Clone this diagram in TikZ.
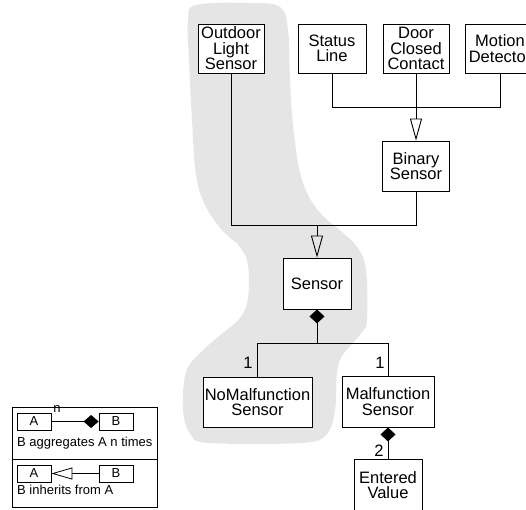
\documentclass[tikz,border=0pt]{standalone}
\usepackage{fontspec}
\setmainfont{Liberation Sans}
\usetikzlibrary{arrows.meta}
\tikzset{
  cls/.style={draw, line width=0.9pt, fill=white, inner sep=0pt, align=center,
    font=\fontsize{16.5}{15.5}\selectfont},
  lgbox/.style={draw, line width=0.8pt, inner sep=0pt, minimum width=34pt, minimum height=17pt,
    font=\fontsize{13}{13}\selectfont},
  conn/.style={line width=0.9pt},
  inh/.style={conn, -{Triangle[open, length=22pt, width=12pt, line width=0.9pt]}},
  agg/.style={conn, -{Diamond[length=14pt, width=15pt]}},
  lbl/.style={font=\fontsize{16.5}{16}\selectfont, inner sep=0pt},
  lgtext/.style={font=\fontsize{13}{13}\selectfont, inner sep=0pt, anchor=west}
}
\begin{document}
\begin{tikzpicture}[x=1pt, y=-1pt]
\clip (0,0) rectangle (526,509);
\fill[white] (0,0) rectangle (526,509);
% gray highlight region
\fill[gray!20] plot[smooth cycle, tension=0.6] coordinates {
 (196,5) (250,3) (280,7) (288,30) (290,80) (293,125) (299,168) (308,195) (322,215)
 (342,232) (358,248) (366,270) (367,320) (362,332) (352,344) (342,356) (337,372)
 (335,410) (326,435) (300,443) (210,443) (191,435) (183,410) (186,372) (200,353)
 (218,337) (240,318) (248,298) (248,265) (240,247) (222,230) (205,205) (196,175)
 (192,120) (189,60) (188,20)};
% classes
\node[cls, minimum width=66pt, minimum height=49pt] (ols) at (231,48.5) {Outdoor\\Light\\Sensor};
\node[cls, minimum width=68pt, minimum height=49pt] (status) at (332,48.5) {Status\\Line};
\node[cls, minimum width=66pt, minimum height=49pt] (door) at (416,48.5) {Door\\Closed\\Contact};
\node[cls, minimum width=70pt, minimum height=49pt] (motion) at (500,48.5) {Motion\\Detector};
\node[cls, minimum width=67pt, minimum height=50pt] (binary) at (416,166) {Binary\\Sensor};
\node[cls, minimum width=68pt, minimum height=51pt] (sensor) at (317,283.5) {Sensor};
\node[cls, minimum width=109pt, minimum height=50pt] (nomal) at (257.5,402) {NoMalfunction\\Sensor};
\node[cls, minimum width=92pt, minimum height=51pt] (mal) at (388,401.5) {Malfunction\\Sensor};
\node[cls, minimum width=68pt, minimum height=52pt] (entered) at (388,485) {Entered\\Value};
% junctions
\coordinate (j1) at (416,107);
\coordinate (j2) at (317,225);
\coordinate (j3) at (317,343);
% generalisations
\draw[conn] (status.south) |- (j1);
\draw[conn] (motion.south) |- (j1);
\draw[conn] (door.south) -- (j1);
\draw[inh] (j1) -- (binary.north);
\draw[conn] (ols.south) |- (j2);
\draw[conn] (binary.south) |- (j2);
\draw[inh] (j2) -- (sensor.north);
% aggregations
\draw[conn] (nomal.north) |- (j3);
\draw[conn] (mal.north) |- (j3);
\draw[agg] (j3) -- (sensor.south);
\draw[agg] (entered.north) -- (mal.south);
\node[lbl] (l1) at (248,363) {1};
\node[lbl] (l2) at (380,363) {1};
\node[lbl] (l3) at (379,451) {2};
% legend
\draw[line width=0.8pt] (12,407) rectangle (157,507);
\draw[line width=0.8pt] (12,459) -- (157,459);
\node[lgbox] (la1) at (34,421.5) {A};
\node[lgbox] (lb1) at (116,421.5) {B};
\draw[conn, line width=0.8pt, -{Diamond[length=15pt, width=13pt]}] (la1.east) -- (lb1.west);
\node[font=\fontsize{13}{13}\selectfont, inner sep=0pt] (ln) at (57,409) {n};
\node[lgtext] (lt1) at (17,443) {B aggregates A n times};
\node[lgbox] (la2) at (34,473.5) {A};
\node[lgbox] (lb2) at (116,473.5) {B};
\draw[line width=0.8pt, -{Triangle[open, length=21pt, width=12pt, line width=0.8pt]}] (lb2.west) -- (la2.east);
\node[lgtext] (lt2) at (17,490) {B inherits from A};
\end{tikzpicture}
\end{document}
